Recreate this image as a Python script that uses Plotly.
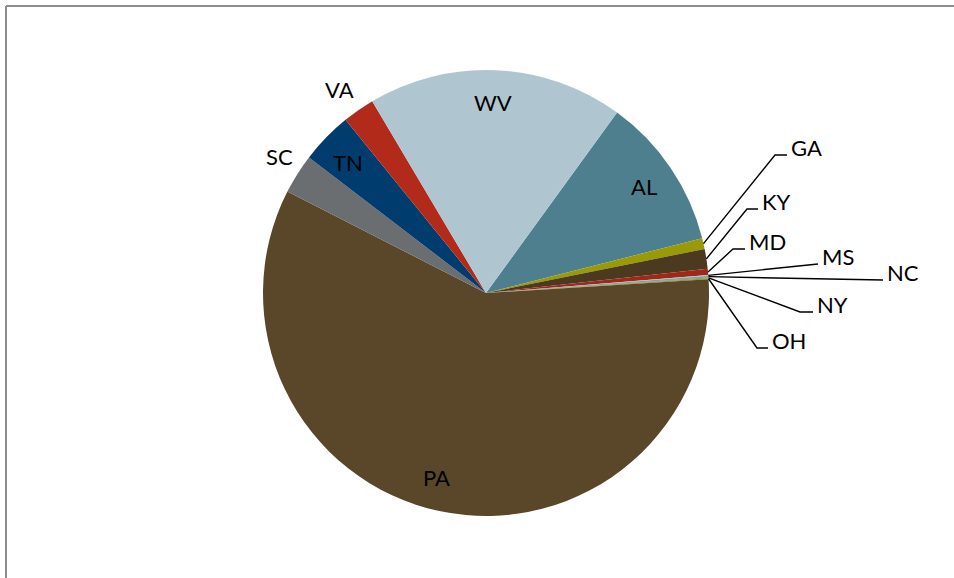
import math
import plotly.graph_objects as go

# Share of output by state (percent), in slice order
states = ["AL", "GA", "KY", "MD", "MS", "NC", "NY", "OH", "PA", "SC", "TN", "VA", "WV"]
share = [11.06, 0.78, 1.44, 0.44, 0.06, 0.12, 0.06, 0.06, 58.53, 2.89, 3.75, 2.33, 18.53]
colors = ["#4d7f8e", "#9a9a06", "#4b3a20", "#a3261a", "#9cc3d2", "#7fa0aa",
          "#6e8a3a", "#8c9628", "#5a4628", "#6b6e70", "#003c6e", "#b12a1a", "#afc6d0"]

W, H = 954, 578
CX, CY, R = 486, 293, 223          # pie centre and radius in pixels
START = 36.0                        # angle of the first slice edge, clockwise from 12 o'clock

# Text labels placed directly on or beside their slices (centre of text, pixels)
plain_labels = {"PA": (436, 477), "WV": (493, 102), "AL": (644, 186),
                "TN": (348, 162), "SC": (279, 156), "VA": (339, 90)}
# Labels with leader lines: (elbow point, line end) in pixels
leader_labels = {"GA": ((775, 155), (787, 155)),
                 "KY": ((747, 209), (758, 209)),
                 "MD": ((733, 249), (745, 249)),
                 "MS": ((818, 264), (818, 264)),
                 "NC": ((883, 280), (883, 280)),
                 "NY": ((800, 312), (813, 312)),
                 "OH": ((757, 348), (768, 348))}

FONT = dict(family="Lato, 'Open Sans', sans-serif", size=22, color="#000000")


def px(x):
    return x / W


def py(y):
    return 1 - y / H


fig = go.Figure(go.Pie(
    labels=states,
    values=share,
    sort=False,
    direction="clockwise",
    rotation=START,
    marker=dict(colors=colors, line=dict(width=0)),
    textinfo="none",
    hoverinfo="label+percent",
    showlegend=False,
    domain=dict(x=[px(CX - R), px(CX + R)], y=[py(CY + R), py(CY - R)]),
))

# mid-angle of each slice, from the data
total = sum(share)
mid = {}
acc = 0.0
for s, v in zip(states, share):
    a0 = START + 360 * acc / total
    acc += v
    a1 = START + 360 * acc / total
    mid[s] = (a0 + a1) / 2

annotations = []
shapes = []

for s, (x, y) in plain_labels.items():
    annotations.append(dict(x=px(x), y=py(y), xref="paper", yref="paper", text=s,
                            showarrow=False, xanchor="center", yanchor="middle", font=FONT))

for s, (elbow, end) in leader_labels.items():
    ang = math.radians(mid[s])
    sx = CX + R * math.sin(ang)
    sy = CY - R * math.cos(ang)
    pts = [(sx, sy), elbow, end]
    path = "M " + " L ".join(f"{px(a)},{py(b)}" for a, b in pts)
    shapes.append(dict(type="path", xref="paper", yref="paper", path=path,
                       line=dict(color="#000000", width=1.4)))
    annotations.append(dict(x=px(end[0] + 2), y=py(end[1] - 8), xref="paper", yref="paper",
                            text=s, showarrow=False, xanchor="left", yanchor="middle",
                            font=FONT))

# chart-area frame (top and left edges visible)
shapes.append(dict(type="line", xref="paper", yref="paper", x0=px(6), x1=1.0,
                   y0=py(6), y1=py(6), line=dict(color="#8c8c8c", width=2)))
shapes.append(dict(type="line", xref="paper", yref="paper", x0=px(6), x1=px(6),
                   y0=py(6), y1=0.0, line=dict(color="#8c8c8c", width=2)))

fig.update_layout(
    width=W, height=H,
    margin=dict(l=0, r=0, t=0, b=0),
    paper_bgcolor="#ffffff",
    plot_bgcolor="#ffffff",
    annotations=annotations,
    shapes=shapes,
)

fig.write_html("out.html")
